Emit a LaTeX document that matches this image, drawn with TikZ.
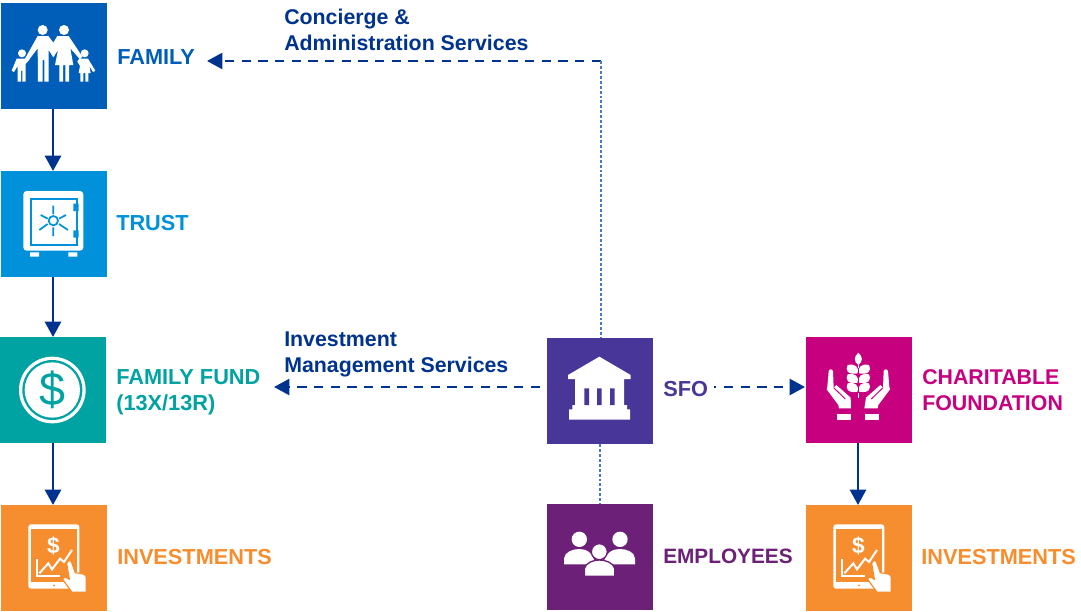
\documentclass[tikz,border=0pt]{standalone}
\usepackage{fontspec}
\setmainfont{Liberation Sans}
\usetikzlibrary{arrows.meta}
\definecolor{cfamily}{HTML}{005EB8}
\definecolor{ctrust}{HTML}{0091DA}
\definecolor{cfund}{HTML}{00A3A1}
\definecolor{cinv}{HTML}{F68D2E}
\definecolor{csfo}{HTML}{483698}
\definecolor{cemp}{HTML}{6D2077}
\definecolor{cchar}{HTML}{C6007E}
\definecolor{cnavy}{HTML}{00338D}
\definecolor{cdot}{HTML}{4A7BC0}
\tikzset{
  x=0.75pt,y=-0.75pt,
  tile/.style={fill=#1,minimum size=79.5pt,inner sep=0pt,outer sep=0pt,anchor=north west},
  lab/.style={text=#1,font=\fontsize{16.3}{19.5}\selectfont\bfseries,anchor=base west,inner sep=0pt,align=left},
  svc/.style={font=\fontsize{16}{19.5}\selectfont\bfseries},
  solidarrow/.style={draw=cnavy,line width=2pt,-{Triangle[width=12pt,length=11.5pt]}},
  dasharrow/.style={draw=cnavy,line width=1.8pt,dash pattern=on 7pt off 5.5pt,-{Triangle[width=12pt,length=11.5pt,sep=0pt]}},
  dotline/.style={draw=cdot,line width=1pt,dash pattern=on 2.2pt off 1.5pt},
  ico/.style={x=0.25pt,y=-0.25pt},
}
\newcommand{\tableticon}[2]{%
  \begin{scope}[shift={(#1,#2)},ico]
    \fill[white,rounded corners=2pt] (85,583) rectangle (238,776);
    \fill[cinv] (92,597) rectangle (230,757);
    \fill[cinv] (162,766) circle (3);
    \node[white,font=\fontsize{17}{17}\selectfont\bfseries,inner sep=0pt] (dollar#1) at (160,648) {\$};
    \draw[white,line width=1.5pt] (110,688) -- (110,738) -- (180,738);
    \draw[white,line width=1.5pt] (118,730) -- (145,700) -- (156,718) -- (180,686) -- (192,696) -- (216,660);
    \fill[white,draw=cinv,line width=0.9pt,line join=round] (200,700) .. controls (204,688) and (214,690) .. (216,700) -- (226,728) -- (250,732) .. controls (258,734) and (258,738) .. (259,745) -- (259,787) -- (216,787) -- (188,748) .. controls (190,740) and (198,740) .. (208,748) -- cycle;
  \end{scope}}
\begin{document}
\begin{tikzpicture}
\useasboundingbox (0,0) rectangle (1081,611);
% tiles
\node[tile=cfamily] (family) at (1,3) {};
\node[tile=ctrust] (trust) at (1,171) {};
\node[tile=cfund] (fund) at (0,337) {};
\node[tile=cinv] (inv) at (1,505) {};
\node[tile=csfo] (sfo) at (547,338) {};
\node[tile=cemp] (emp) at (547,504) {};
\node[tile=cchar] (char) at (806,337) {};
\node[tile=cinv] (inv2) at (806,505) {};
% labels
\node[lab=cfamily] (lfamily) at (117,64) {FAMILY};
\node[lab=ctrust] (ltrust) at (116,230) {TRUST};
\node[lab=cfund] (lfund) at (116,410) {FAMILY FUND\\(13X/13R)};
\node[lab=cinv] (linv) at (117,564) {INVESTMENTS};
\node[lab=csfo] (lsfo) at (663,396) {SFO};
\node[lab=cemp,font=\fontsize{15.6}{19.5}\selectfont\bfseries] (lemp) at (663,563) {EMPLOYEES};
\node[lab=cchar,font=\fontsize{16}{19.5}\selectfont\bfseries] (lchar) at (922,410) {CHARITABLE\\FOUNDATION};
\node[lab=cinv] (linv2) at (921,564) {INVESTMENTS};
\node[lab=cnavy,svc] (lconc) at (284,50) {Concierge \&\\Administration Services};
\node[lab=cnavy,svc] (lmgmt) at (284,372) {Investment\\Management Services};
% connector ends
\coordinate (corner) at (601,61);
\coordinate (ctip) at (207,61);
\coordinate (ftail) at (540,387);
\coordinate (ftip) at (274,387);
\coordinate (sdot) at (714,387);
\coordinate (sdotend) at (716,387);
\coordinate (stail) at (724,387);
\coordinate (stip) at (805,387);
\coordinate (sfotop) at (601,338);
% connectors
\draw[solidarrow] (family.south -| 53,0) -- (53,170 |- trust.north);
\draw[solidarrow] (trust.south -| 53,0) -- (53,337 |- fund.north);
\draw[solidarrow] (fund.south -| 53,0) -- (53,505 |- inv.north);
\draw[solidarrow] (char.south -| 858,0) -- (858,504 |- inv2.north);
\draw[dasharrow] (corner) -- (ctip);
\draw[dotline] (corner) -- (sfotop);
\draw[dotline] (sfo.south) -- (emp.north);
\draw[dasharrow] (ftail) -- (ftip);
\draw[draw=cnavy,line width=1.8pt] (sdot) -- (sdotend);
\draw[dasharrow] (stail) -- (stip);
% family icon
\begin{scope}[ico]
  \fill[white] (128,90) circle (15) (192,90) circle (15) (66,160) circle (12) (254,160) circle (12);
  \fill[white] (113,108) -- (145,108) -- (160,128) -- (172,108) -- (206,108) -- (247,170) -- (240,178) -- (211,145) -- (220,195) -- (207,195) -- (207,245) -- (196,245) -- (196,195) -- (189,195) -- (189,245) -- (178,245) -- (178,195) -- (165,195) -- (174,150) -- (160,172) -- (146,150) -- (146,245) -- (133,245) -- (133,180) -- (128,180) -- (128,245) -- (114,245) -- (113,145) -- (82,186) -- (74,178) -- cycle;
  \fill[white] (50,176) -- (76,176) -- (84,172) -- (88,178) -- (77,192) -- (77,245) -- (67,245) -- (67,212) -- (63,212) -- (63,245) -- (53,245) -- (53,198) -- (42,216) -- (35,212) -- cycle;
  \fill[white] (240,176) -- (264,176) -- (286,212) -- (279,216) -- (268,198) -- (272,219) -- (265,219) -- (265,245) -- (256,245) -- (256,219) -- (250,219) -- (250,245) -- (241,245) -- (241,219) -- (236,219) -- (240,198) -- (232,185) -- (236,178) -- cycle;
\end{scope}
% trust icon
\begin{scope}[ico]
  \fill[white,rounded corners=2.5pt] (70,573) rectangle (250,752);
  \draw[ctrust,line width=1.5pt] (92,597) rectangle (230,734);
  \fill[ctrust] (220,611) rectangle (236,633) (220,691) rectangle (236,713);
  \draw[ctrust,line width=1.3pt] (160,662) circle (14);
  \draw[ctrust,line width=1.3pt] (160,617) -- (160,642) (160,682) -- (160,708) (122,645) -- (143,656) (198,645) -- (177,656) (118,690) -- (143,672) (204,690) -- (177,672);
  \fill[white] (90,757) rectangle (117,770) (205,757) rectangle (232,770);
\end{scope}
% fund icon
\begin{scope}[shift={(0,330)},ico]
  \fill[white] (157,180) circle (100);
  \fill[cfund] (157,180) circle (90);
  \fill[white] (157,180) circle (83);
  \node[text=cfund,font=\fontsize{35}{35}\selectfont,inner sep=0pt] (funddollar) at (157,180) {\$};
\end{scope}
\tableticon{0}{330}
\tableticon{805}{330}
% SFO icon
\begin{scope}[shift={(530,330)},ico]
  \fill[white] (208,80) -- (302,135) -- (302,147) -- (282,147) -- (282,225) -- (291,225) -- (291,238) -- (300,238) -- (300,269) -- (117,269) -- (117,238) -- (127,238) -- (127,225) -- (135,225) -- (135,147) -- (114,147) -- (114,135) -- cycle;
  \fill[csfo] (163,175) rectangle (177,225) (201,175) rectangle (215,225) (240,175) rectangle (254,225);
\end{scope}
% employees icon
\begin{scope}[shift={(530,330)},ico]
  \fill[white] (148,628) circle (23) (270,628) circle (23);
  \fill[white] (102,703) -- (102,685) .. controls (104,665) and (130,657) .. (148,657) .. controls (166,657) and (190,665) .. (195,703) -- cycle;
  \fill[white] (220,703) .. controls (225,665) and (252,657) .. (270,657) .. controls (288,657) and (314,665) .. (315,685) -- (315,703) -- cycle;
  \fill[white,draw=cemp,line width=1pt] (208,665) circle (24);
  \fill[white,draw=cemp,line width=1pt] (163,739) -- (163,715) .. controls (168,698) and (190,690) .. (208,690) .. controls (226,690) and (250,698) .. (254,715) -- (254,739) -- cycle;
\end{scope}
% charitable icon
\begin{scope}[shift={(790,330)},ico]
  \fill[white] (204,100) rectangle (206,203);
  \fill[white] (205,68) .. controls (219,80) and (219,95) .. (205,105) .. controls (191,95) and (191,80) .. (205,68) -- cycle;
  \foreach \yy in {116,144,171}{
    \fill[white] (203,\yy+14) .. controls (172,\yy+20) and (165,\yy+3) .. (173,\yy-11) .. controls (195,\yy-16) and (208,\yy-5) .. (203,\yy+14) -- cycle;
    \fill[white] (207,\yy+14) .. controls (238,\yy+20) and (245,\yy+3) .. (237,\yy-11) .. controls (215,\yy-16) and (202,\yy-5) .. (207,\yy+14) -- cycle;
  }
  \draw[cchar,line width=0.5pt] (204,115) -- (204,190) (206,115) -- (206,190);
  \fill[white] (112,170) -- (116,124) .. controls (117,116) and (128,116) .. (129,124) -- (131,173) -- (139,165) -- (182,203) -- (183,235) -- (147,235) -- (145,225) -- (110,178) -- cycle;
  \fill[white] (141,252) rectangle (183,270);
  \fill[white] (298,170) -- (294,124) .. controls (293,116) and (282,116) .. (281,124) -- (279,173) -- (271,165) -- (228,203) -- (223,235) -- (263,235) -- (265,225) -- (300,178) -- cycle;
  \fill[white] (225,252) rectangle (267,270);
  \draw[cchar,line width=0.7pt] (131,173) -- (166,207) (279,173) -- (244,207);
\end{scope}
\end{tikzpicture}
\end{document}
